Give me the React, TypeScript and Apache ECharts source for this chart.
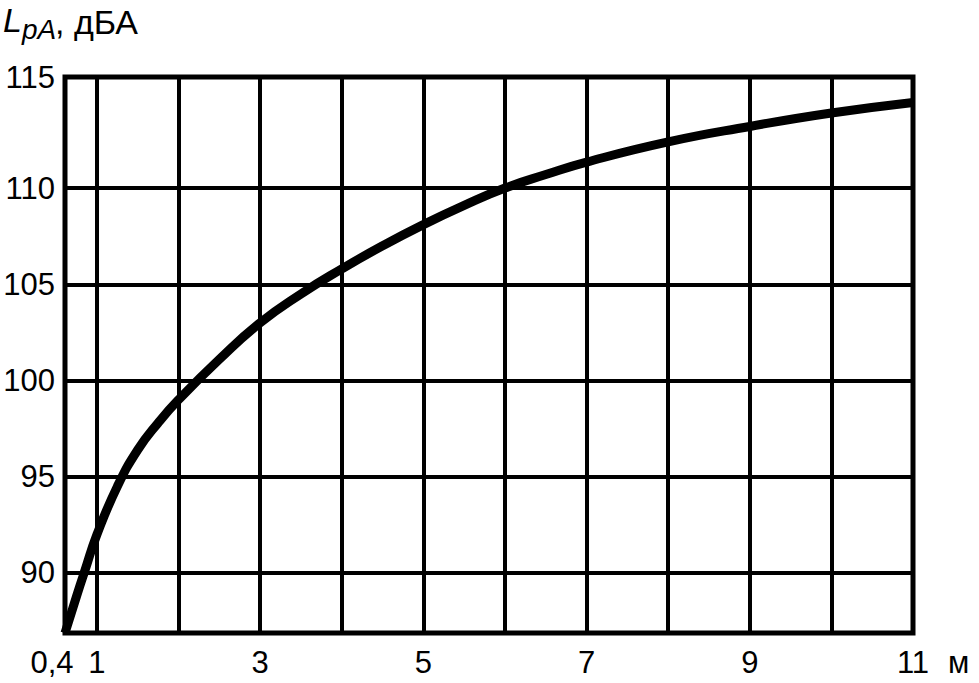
import React, { useEffect, useRef } from "react";
import * as echarts from "echarts";

// Axis extents as drawn (the left edge is labelled 0,4, the top edge 115)
const X_MIN = 0.608;
const X_MAX = 11;
const Y_MIN = 86.88;
const Y_MAX = 115.77;

const xGrid = [1, 2, 3, 4, 5, 6, 7, 8, 9, 10, 11];
const yGrid = [90, 95, 100, 105, 110];
const xLabelValues = [X_MIN, 1, 3, 5, 7, 9, 11];
const yLabelValues = [90, 95, 100, 105, 110, Y_MAX];

// Curve
const distances = [X_MIN, 0.75, 0.85, 1, 1.25, 1.5, 1.75, 2, 2.5, 3, 3.5, 4, 4.5, 5, 5.5, 6, 6.5, 7, 8, 9, 10, 11];
const levels = [86.88, 88.8, 90.1, 92.0, 94.5, 96.4, 97.8, 99.0, 101.1, 103.0, 104.5, 105.8, 107.0, 108.1, 109.1, 110.0, 110.7, 111.35, 112.4, 113.2, 113.9, 114.45];

const FONT = "'Liberation Sans', Arial, sans-serif";

export default function App() {
  const ref = useRef<HTMLDivElement>(null);
  useEffect(() => {
    if (!ref.current) return;
    const chart = echarts.init(ref.current, null, { renderer: "svg" });
    const data = distances.map((d, i) => [d, levels[i]]);
    chart.setOption({
      animation: false,
      backgroundColor: "#fff",
      grid: {
        left: 65,
        top: 77,
        width: 848,
        height: 556,
        show: true,
        borderColor: "#000",
        borderWidth: 5,
        backgroundColor: "transparent",
        containLabel: false,
        outerBoundsMode: "none",
      },
      xAxis: {
        type: "value",
        min: X_MIN,
        max: X_MAX,
        axisLine: { show: false },
        axisTick: { show: false, customValues: xGrid },
        splitLine: { show: true, lineStyle: { color: "#000", width: 4 } },
        axisLabel: {
          customValues: xLabelValues,
          margin: 14,
          fontSize: 31,
          fontFamily: FONT,
          color: "#000",
          formatter: (v: number) => (v === X_MIN ? "{a|0,4}" : String(v)),
          rich: {
            a: { fontSize: 31, fontFamily: FONT, color: "#000", padding: [0, 26, 0, 0] },
          },
        },
        name: "м",
        nameLocation: "end",
        nameGap: 35,
        nameTextStyle: {
          fontSize: 31,
          fontFamily: FONT,
          color: "#000",
          align: "left",
          verticalAlign: "top",
          padding: [14, 0, 0, 0],
        },
      },
      yAxis: {
        type: "value",
        min: Y_MIN,
        max: Y_MAX,
        axisLine: { show: false },
        axisTick: { show: false, customValues: yGrid },
        splitLine: { show: true, lineStyle: { color: "#000", width: 4 } },
        axisLabel: {
          customValues: yLabelValues,
          margin: 10,
          fontSize: 31,
          fontFamily: FONT,
          color: "#000",
          formatter: (v: number) => (v === Y_MAX ? "115" : String(v)),
        },
      },
      graphic: [
        {
          type: "text",
          x: 3,
          y: 3,
          style: { text: "L", font: `italic 34px ${FONT}`, fill: "#000", verticalAlign: "top" },
        },
        {
          type: "text",
          x: 22,
          y: 15,
          style: { text: "pA", font: `italic 28px ${FONT}`, fill: "#000", verticalAlign: "top" },
        },
        {
          type: "text",
          x: 55,
          y: 5,
          style: { text: ", дБА", font: `34px ${FONT}`, fill: "#000", verticalAlign: "top" },
        },
      ],
      series: [
        {
          type: "line",
          data,
          smooth: 0.5,
          symbol: "none",
          lineStyle: { color: "#000", width: 9 },
        },
      ],
    });
    return () => chart.dispose();
  }, []);
  return (
    <div
      ref={ref}
      style={{ position: "fixed", left: 0, top: 0, width: 979, height: 683, background: "#fff" }}
    />
  );
}
